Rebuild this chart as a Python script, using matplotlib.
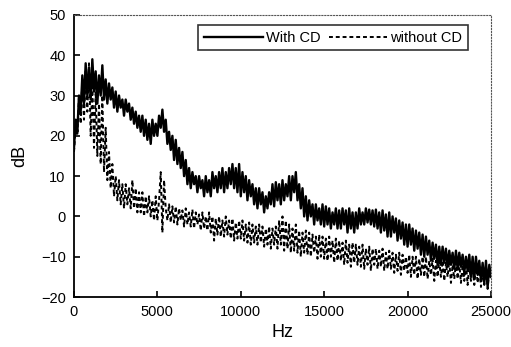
import numpy as np
import matplotlib
matplotlib.use("Agg")
import matplotlib.pyplot as plt

plt.rcParams['font.family'] = ['Liberation Sans', 'DejaVu Sans']

# frequency axis: one value every 100 Hz, 0 .. 25000 Hz
freq_step = 100
with_cd = [
    17, 24, 21, 30, 26, 35, 28, 38, 30, 37,
    29, 39, 31, 36, 28, 35, 30, 37.5, 29, 34,
    28, 33, 29, 32, 27, 31, 26, 30, 27, 29,
    25, 29, 26, 28, 24, 27, 23, 26, 22, 25,
    21, 25, 20, 24, 19, 23, 18, 24, 20, 23,
    20, 25, 22, 26.5, 21, 24, 18, 21, 16.5, 20,
    14, 19, 13, 17, 12, 16, 10, 14, 8, 12,
    7, 11, 8, 10, 6, 10, 7, 9, 5, 10,
    6, 9, 5, 11, 7, 10, 6, 11, 7, 12,
    6, 11, 7, 12, 8, 13, 7, 12, 6, 13,
    5, 11, 6, 10, 4, 9, 5, 8, 3, 7,
    2, 7, 3, 6, 1, 5, 2, 6, 3, 8,
    2.5, 8.5, 4, 8, 3, 9, 4, 8, 5, 10,
    4, 10, 6, 11, 4, 8, 2, 7, 0, 5,
    -1, 4, 0, 3, -2, 3, -1, 2, -2, 3,
    -2.5, 2.5, -2, 2, -3, 1, -2, 2, -3, 1.5,
    -3, 2, -2, 1.5, -4, 2, -3, 1, -4, 1,
    -3, 2, -2, 1, -2, 2, -1.5, 1.7, -2, 1.5,
    -2.5, 1.7, -3, 1, -4, 1.5, -3.5, 0.5, -5, 1,
    -5, 0, -4, -0.5, -6, -1, -5.5, -1.5, -7, -2,
    -7.5, -2, -7, -3, -8.5, -3.5, -8, -4, -9.5, -4.5,
    -10, -5, -9.5, -6, -11, -6.5, -10.5, -7, -12, -7.5,
    -12, -7.5, -11.5, -8, -12.5, -8.5, -12, -9, -13, -8.5,
    -13, -9, -12.5, -9.5, -14, -10, -13.5, -9.5, -15, -10,
    -15.5, -10, -14.5, -11, -16, -11.5, -16.5, -11, -17.5, -12,
    -15,
]
without_cd = [
    16, 22, 20, 30, 23, 34, 24, 36, 26, 38,
    20, 33, 17, 31, 15, 28, 13, 30, 11, 22,
    9, 16, 7, 13, 5, 10, 4, 9, 3, 8,
    2, 8, 3, 7, 2, 9, 2, 7, 1, 6,
    1, 6, 0, 5, 1, 5, 0, 4, -1, 5,
    -1, 4, 11, -4, 9, 2, -1, 3, -1.5, 2.5,
    -1.5, 2.5, -2, 2, -1, 1.5, -2.5, 2, -2, 1,
    -2.5, 1.7, -3, 1, -2, 0.5, -3.5, 1, -3, 0,
    -3.5, 1, -4, 0, -6, -0.5, -4.5, 0, -5, -1,
    -5, 0, -4.5, -1, -5.5, -0.5, -6, -1.5, -5.5, -1,
    -5.5, -1, -6, -2, -6.5, -1.5, -7, -2, -6.5, -2.5,
    -7, -2, -6.5, -2.5, -7.5, -3, -7, -2.5, -8, -3,
    -7, -2.5, -8, -1, -7, 0, -8.5, -1, -8, -2,
    -9, -3, -8.5, -2, -9, -3.5, -10, -4, -9, -3.5,
    -9.5, -4, -10, -4.5, -9, -5, -10.5, -4.5, -10, -5,
    -10.5, -5.5, -11, -5, -10, -6, -11.5, -5.5, -11, -6,
    -11, -6.5, -12, -6, -11.5, -7, -12.5, -6.5, -11.5, -7,
    -12, -7.5, -12.5, -7, -13, -8, -12, -7.5, -13.5, -8,
    -12, -8, -13, -8.5, -12.5, -8, -13.5, -9, -13, -8.5,
    -13, -9, -14, -9.5, -13.5, -9, -14.5, -9.5, -13.5, -10,
    -14, -9.5, -15, -10, -14.5, -10, -15.5, -10.5, -14.5, -10,
    -15, -10, -15.5, -11, -14.5, -10.5, -16, -11, -15, -11,
    -15, -11, -16, -11.5, -15, -11, -16.5, -12, -15.5, -11.5,
    -15.5, -11.5, -16.5, -12, -16, -11.5, -17, -12, -16, -12.5,
    -17, -12, -16.5, -12.5, -17.5, -13, -17, -12.5, -18, -13,
    -16,
]
hz = np.arange(len(with_cd)) * freq_step

fig = plt.figure(figsize=(5.11, 3.47), dpi=100)
ax = fig.add_axes([0.1448, 0.144, 0.816, 0.813])

ax.plot(hz, with_cd, color='black', lw=1.7, label='With CD')
ax.plot(hz, without_cd, color='black', lw=1.4, linestyle=(0, (2, 1.5)), label='without CD')

ax.set_xlim(0, 25000)
ax.set_ylim(-20, 50)
ax.set_xticks([0, 5000, 10000, 15000, 20000, 25000])
ax.set_yticks([-20, -10, 0, 10, 20, 30, 40, 50])
ax.tick_params(direction='in', length=4, width=1.2, labelsize=10.5, pad=6)
ax.set_xlabel('Hz', fontsize=13, labelpad=3)
ax.set_ylabel('dB', fontsize=13, labelpad=9)

for s in ['left', 'bottom']:
    ax.spines[s].set_linewidth(1.3)
for s in ['top', 'right']:
    ax.spines[s].set_linestyle(':')
    ax.spines[s].set_linewidth(0.8)
    ax.spines[s].set_color('#555555')

leg = ax.legend(loc='upper right', ncol=2, fontsize=10.5, frameon=True, fancybox=False,
                handlelength=4.0, columnspacing=0.6, handletextpad=0.2,
                borderpad=0.4, borderaxespad=0.0, bbox_to_anchor=(0.945, 0.965))
leg.get_frame().set_edgecolor('black')
leg.get_frame().set_linewidth(1.2)

fig.savefig('out.png', dpi=100)
